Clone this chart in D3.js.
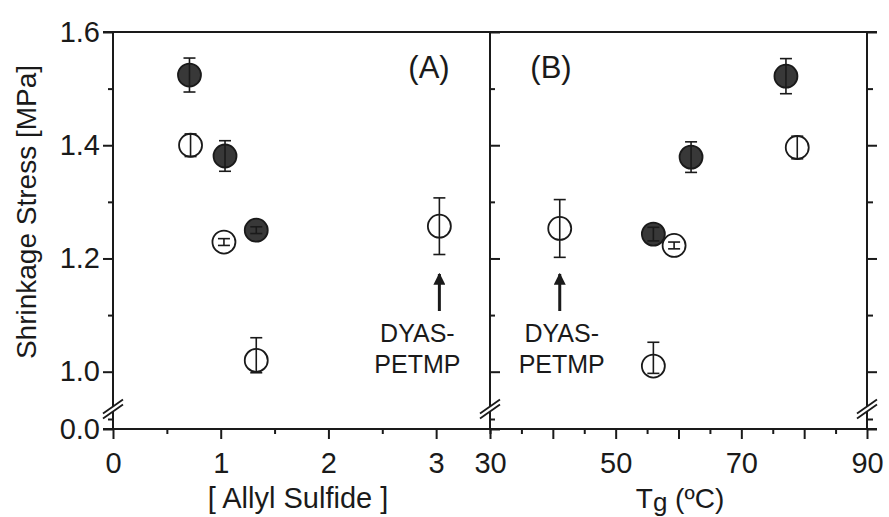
<!DOCTYPE html>
<html>
<head>
<meta charset="utf-8">
<script src="https://cdn.jsdelivr.net/npm/d3@7"></script>
<style>
  html, body { margin: 0; padding: 0; background: #fff; }
  svg { display: block; font-family: "Liberation Sans", Arial, sans-serif; }
</style>
</head>
<body>
<svg id="chart" width="889" height="517"></svg>
<script>
// ---------------- data ----------------
// Panel A: shrinkage stress vs [Allyl Sulfide]
const aFilledX   = [0.71, 1.04, 1.33];
const aFilledY   = [1.524, 1.381, 1.250];
const aFilledErr = [0.030, 0.027, 0.006];
const aOpenX     = [0.72, 1.03, 1.33, 3.03];
const aOpenY     = [1.400, 1.229, 1.020, 1.257];
const aOpenErr   = [0.020, 0.006, 0.040, 0.050];
// Panel B: shrinkage stress vs Tg
const bFilledX   = [56.0, 62.0, 77.1];
const bFilledY   = [1.243, 1.379, 1.522];
const bFilledErr = [0.012, 0.027, 0.031];
const bOpenX     = [41.1, 56.0, 59.3, 78.9];
const bOpenY     = [1.253, 1.010, 1.223, 1.396];
const bOpenErr   = [0.051, 0.042, 0.006, 0.020];
// ticks
const yMajor = [0.0, 1.0, 1.2, 1.4, 1.6];
const yMinor = [0.1, 1.1, 1.3, 1.5];
const xAMajor = [0, 1, 2, 3];
const xAMinor = [0.5, 1.5, 2.5, 3.5];
const xBMajor = [30, 40, 50, 60, 70, 80, 90];
const xBLabels = [30, 50, 70, 90];
const xBMinor = [35, 45, 55, 65, 75, 85];
// annotations
const annotA = { x: 3.03, lines: ["DYAS-", "PETMP"] };
const annotB = { x: 41.1, lines: ["DYAS-", "PETMP"] };

// ---------------- layout ----------------
const svg = d3.select("#chart");
const L = 113, M = 490, R = 867, T = 32, B = 429;
const ink = "#1a1a1a";
const xA = d3.scaleLinear().domain([0, 3.5]).range([L, M]);
const xB = d3.scaleLinear().domain([30, 90]).range([M, R]);
const y = d3.scaleLinear().domain([0, 0.1, 1.0, 1.6]).range([B, B - 10, 371.7, T]);

const fsTick = 29;

function styleAxis(g) {
  g.selectAll("path.domain").remove();
  g.selectAll("line").attr("stroke", ink).attr("stroke-width", 2);
  g.selectAll("text").attr("fill", ink).style("font-size", fsTick + "px")
    .style("font-family", "'Liberation Sans', Arial, sans-serif");
}

// frame lines
const frame = svg.append("g").attr("stroke", ink).attr("stroke-width", 2).attr("fill", "none");
frame.append("line").attr("x1", L - 10).attr("x2", R + 10).attr("y1", T).attr("y2", T);
frame.append("line").attr("x1", L - 10).attr("x2", R + 10).attr("y1", B).attr("y2", B);
frame.append("line").attr("x1", L).attr("x2", L).attr("y1", T).attr("y2", B + 1);
frame.append("line").attr("x1", M).attr("x2", M).attr("y1", T).attr("y2", B + 1);
frame.append("line").attr("x1", R).attr("x2", R).attr("y1", T).attr("y2", B + 1);

// left axis
svg.append("g").attr("transform", `translate(${L},0)`)
  .call(d3.axisLeft(y).tickValues(yMajor).tickSize(10).tickPadding(3).tickFormat(d3.format(".1f")))
  .call(styleAxis);
svg.append("g").attr("transform", `translate(${L},0)`)
  .call(d3.axisLeft(y).tickValues(yMinor).tickSize(5).tickFormat(""))
  .call(styleAxis);
// middle axis (ticks into panel B)
svg.append("g").attr("transform", `translate(${M},0)`)
  .call(d3.axisRight(y).tickValues(yMajor).tickSize(10).tickFormat(""))
  .call(styleAxis);
svg.append("g").attr("transform", `translate(${M},0)`)
  .call(d3.axisRight(y).tickValues(yMinor).tickSize(5).tickFormat(""))
  .call(styleAxis);
// right axis
svg.append("g").attr("transform", `translate(${R},0)`)
  .call(d3.axisRight(y).tickValues(yMajor).tickSize(10).tickFormat(""))
  .call(styleAxis);
svg.append("g").attr("transform", `translate(${R},0)`)
  .call(d3.axisRight(y).tickValues(yMinor).tickSize(6).tickFormat(""))
  .call(styleAxis);

// bottom axes
svg.append("g").attr("transform", `translate(0,${B})`)
  .call(d3.axisBottom(xA).tickValues(xAMajor).tickSize(10).tickPadding(13).tickFormat(d3.format("d")))
  .call(styleAxis);
svg.append("g").attr("transform", `translate(0,${B})`)
  .call(d3.axisBottom(xA).tickValues(xAMinor).tickSize(5).tickFormat(""))
  .call(styleAxis);
svg.append("g").attr("transform", `translate(0,${B})`)
  .call(d3.axisBottom(xB).tickValues(xBMajor).tickSize(10).tickPadding(13)
    .tickFormat(d => xBLabels.includes(d) ? String(d) : ""))
  .call(styleAxis);
svg.append("g").attr("transform", `translate(0,${B})`)
  .call(d3.axisBottom(xB).tickValues(xBMinor).tickSize(5).tickFormat(""))
  .call(styleAxis);

// axis breaks
const breakY = 409;
function drawBreak(cx) {
  const g = svg.append("g");
  g.append("rect").attr("x", cx - 3).attr("y", breakY - 3).attr("width", 6).attr("height", 5).attr("fill", "#fff");
  [-2.5, 2.5].forEach(o => {
    g.append("line")
      .attr("x1", cx - 10).attr("y1", breakY + o + 7)
      .attr("x2", cx + 10).attr("y2", breakY + o - 7)
      .attr("stroke", ink).attr("stroke-width", 1.8);
  });
}
[L, M, R].forEach(drawBreak);

// ---------------- points ----------------
const rad = 11.5, cap = 6;
function drawSeries(xs, ys, es, xScale, filled) {
  const g = svg.append("g");
  const data = xs.map((d, i) => ({ x: d, y: ys[i], e: es[i] }));
  g.selectAll("circle").data(data).join("circle")
    .attr("cx", d => xScale(d.x)).attr("cy", d => y(d.y)).attr("r", rad)
    .attr("fill", filled ? "#383838" : "#fff")
    .attr("stroke", ink).attr("stroke-width", 1.8);
  const eb = g.selectAll("g.eb").data(data).join("g").attr("class", "eb")
    .attr("stroke", ink).attr("stroke-width", 1.6);
  eb.append("line")
    .attr("x1", d => xScale(d.x)).attr("x2", d => xScale(d.x))
    .attr("y1", d => y(d.y + d.e)).attr("y2", d => y(d.y - d.e));
  eb.append("line")
    .attr("x1", d => xScale(d.x) - cap).attr("x2", d => xScale(d.x) + cap)
    .attr("y1", d => y(d.y + d.e)).attr("y2", d => y(d.y + d.e));
  eb.append("line")
    .attr("x1", d => xScale(d.x) - cap).attr("x2", d => xScale(d.x) + cap)
    .attr("y1", d => y(d.y - d.e)).attr("y2", d => y(d.y - d.e));
}
drawSeries(aOpenX, aOpenY, aOpenErr, xA, false);
drawSeries(aFilledX, aFilledY, aFilledErr, xA, true);
drawSeries(bOpenX, bOpenY, bOpenErr, xB, false);
drawSeries(bFilledX, bFilledY, bFilledErr, xB, true);

// ---------------- annotations ----------------
svg.append("defs").append("marker")
  .attr("id", "arrow").attr("viewBox", "0 0 10 10").attr("refX", 9).attr("refY", 5)
  .attr("markerWidth", 4).attr("markerHeight", 4).attr("markerUnits", "strokeWidth")
  .attr("orient", "auto")
  .append("path").attr("d", "M0,0 L10,5 L0,10 Z").attr("fill", ink);

function drawAnnot(a, xScale, textDx) {
  const px = xScale(a.x);
  svg.append("line").attr("x1", px).attr("x2", px).attr("y1", 311).attr("y2", 274)
    .attr("stroke", ink).attr("stroke-width", 3).attr("marker-end", "url(#arrow)");
  const t = svg.append("text").attr("x", px + textDx).attr("y", 342)
    .attr("text-anchor", "middle").attr("fill", ink).style("font-size", "25px");
  a.lines.forEach((s, i) => {
    t.append("tspan").attr("x", px + textDx).attr("dy", i === 0 ? 0 : 31).text(s);
  });
}
drawAnnot(annotA, xA, -22);
drawAnnot(annotB, xB, 2);

// panel labels
svg.append("text").attr("x", 429).attr("y", 78).attr("text-anchor", "middle")
  .attr("fill", ink).style("font-size", "31px").text("(A)");
svg.append("text").attr("x", 551).attr("y", 78).attr("text-anchor", "middle")
  .attr("fill", ink).style("font-size", "31px").text("(B)");

// axis titles
svg.append("text").attr("transform", "translate(36,212) rotate(-90)")
  .attr("text-anchor", "middle").attr("fill", ink).style("font-size", "28px")
  .text("Shrinkage Stress [MPa]");
svg.append("text").attr("x", 298).attr("y", 508).attr("text-anchor", "middle")
  .attr("fill", ink).style("font-size", "29px").text("[ Allyl Sulfide ]");
const tg = svg.append("text").attr("x", 680).attr("y", 508).attr("text-anchor", "middle")
  .attr("fill", ink).style("font-size", "28px");
tg.append("tspan").text("T");
tg.append("tspan").attr("dy", 3).style("font-size", "26px").text("g");
tg.append("tspan").attr("dy", -3).text(" (ºC)");
</script>
</body>
</html>
